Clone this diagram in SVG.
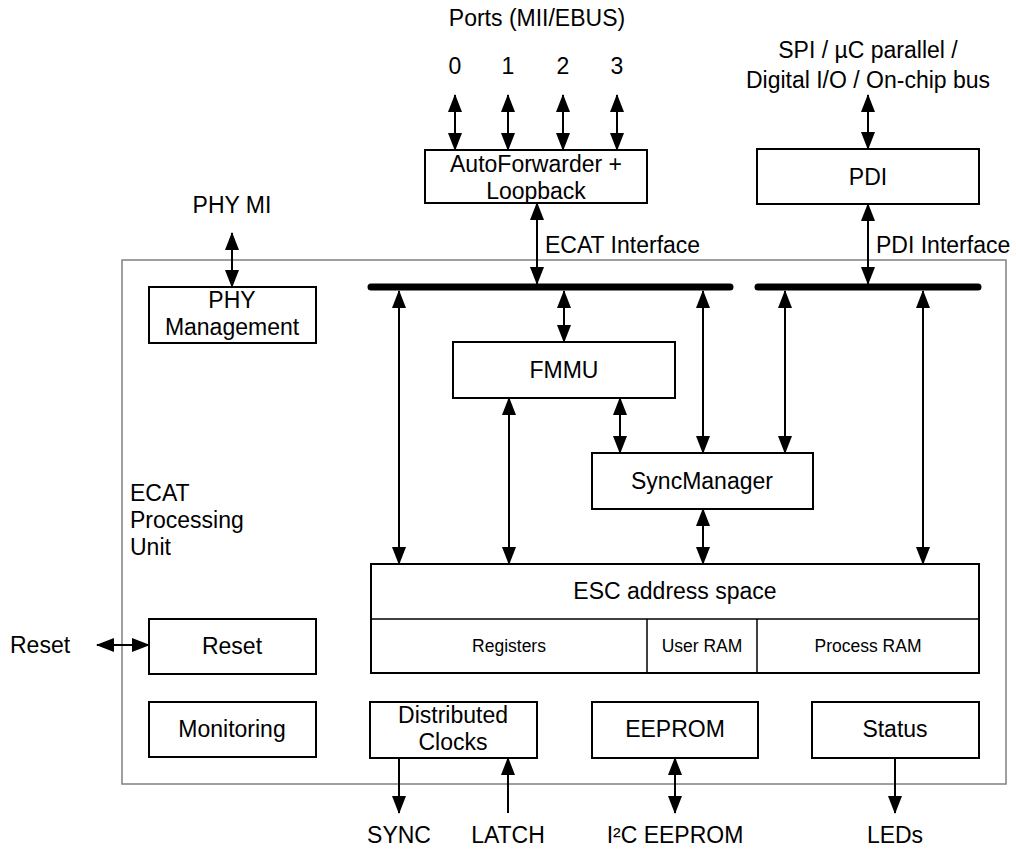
<svg xmlns="http://www.w3.org/2000/svg" width="1016" height="850" viewBox="0 0 1016 850">
<defs>
<marker id="ah" markerUnits="userSpaceOnUse" markerWidth="18" markerHeight="14" refX="17" refY="7" orient="auto-start-reverse">
<path d="M0,0 L18,7 L0,14 z" fill="#000"/>
</marker>
<style>
.box{fill:#fff;stroke:#000;stroke-width:2}
.outer{fill:none;stroke:#808080;stroke-width:1.5}
.t{font-family:"Liberation Sans",Arial,sans-serif;font-size:23px;fill:#000}
.c{text-anchor:middle}
.s{font-size:17.5px}
.a{stroke:#000;stroke-width:2;fill:none;marker-end:url(#ah)}
.d{marker-start:url(#ah)}
.bus{stroke:#000;stroke-width:7;stroke-linecap:round}
</style>
</defs>
<rect width="1016" height="850" fill="#fff"/>
<g id="processing-unit">
<rect class="outer" x="122" y="260" width="884" height="524"/>
<text class="t" x="130" y="501">ECAT</text>
<text class="t" x="130" y="528">Processing</text>
<text class="t" x="130" y="555">Unit</text>
</g>
<g id="labels">
<text class="t c" x="537" y="26">Ports (MII/EBUS)</text>
<text class="t c" x="455" y="74">0</text>
<text class="t c" x="508" y="74">1</text>
<text class="t c" x="563" y="74">2</text>
<text class="t c" x="617" y="74">3</text>
<text class="t c" x="868" y="58">SPI / µC parallel /</text>
<text class="t c" x="868" y="88">Digital I/O / On-chip bus</text>
<text class="t c" x="232" y="213">PHY MI</text>
<text class="t" x="545" y="253">ECAT Interface</text>
<text class="t" x="876" y="253">PDI Interface</text>
<text class="t" x="10" y="653">Reset</text>
<text class="t c" x="399" y="843">SYNC</text>
<text class="t c" x="508" y="843">LATCH</text>
<text class="t c" x="675" y="843">I²C EEPROM</text>
<text class="t c" x="895" y="843">LEDs</text>
</g>
<g id="autoforwarder">
<rect class="box" x="425" y="150" width="222" height="53"/>
<text class="t c" x="536" y="172">AutoForwarder +</text>
<text class="t c" x="536" y="199">Loopback</text>
</g>
<g id="pdi">
<rect class="box" x="757" y="149" width="222" height="55"/>
<text class="t c" x="868" y="185">PDI</text>
</g>
<g id="phy-management">
<rect class="box" x="149" y="287" width="167" height="56"/>
<text class="t c" x="232" y="308">PHY</text>
<text class="t c" x="232" y="335">Management</text>
</g>
<g id="fmmu">
<rect class="box" x="453" y="342" width="222" height="56"/>
<text class="t c" x="564" y="378">FMMU</text>
</g>
<g id="syncmanager">
<rect class="box" x="592" y="453" width="221" height="56"/>
<text class="t c" x="702" y="489">SyncManager</text>
</g>
<g id="esc-address-space">
<rect class="box" x="371" y="564" width="608" height="109"/>
<line x1="371" y1="619" x2="979" y2="619" stroke="#000" stroke-width="1.5"/>
<line x1="647" y1="619" x2="647" y2="673" stroke="#000" stroke-width="1.5"/>
<line x1="757" y1="619" x2="757" y2="673" stroke="#000" stroke-width="1.5"/>
<text class="t c" x="675" y="599">ESC address space</text>
<text class="t c s" x="509" y="652">Registers</text>
<text class="t c s" x="702" y="652">User RAM</text>
<text class="t c s" x="868" y="652">Process RAM</text>
</g>
<g id="reset">
<rect class="box" x="149" y="619" width="167" height="55"/>
<text class="t c" x="232" y="654">Reset</text>
</g>
<g id="monitoring">
<rect class="box" x="149" y="702" width="167" height="55"/>
<text class="t c" x="232" y="737">Monitoring</text>
</g>
<g id="distributed-clocks">
<rect class="box" x="370" y="702" width="167" height="56"/>
<text class="t c" x="453" y="723">Distributed</text>
<text class="t c" x="453" y="750">Clocks</text>
</g>
<g id="eeprom">
<rect class="box" x="592" y="702" width="166" height="56"/>
<text class="t c" x="675" y="737">EEPROM</text>
</g>
<g id="status">
<rect class="box" x="812" y="702" width="167" height="56"/>
<text class="t c" x="895" y="737">Status</text>
</g>
<g id="connectors">
<line class="bus" x1="371" y1="287" x2="730" y2="287"/>
<line class="bus" x1="758" y1="287" x2="978" y2="287"/>
<line class="a d" x1="455" y1="95" x2="455" y2="150"/>
<line class="a d" x1="508" y1="95" x2="508" y2="150"/>
<line class="a d" x1="563" y1="95" x2="563" y2="150"/>
<line class="a d" x1="617" y1="95" x2="617" y2="150"/>
<line class="a d" x1="537" y1="203" x2="537" y2="284"/>
<line class="a d" x1="868" y1="95" x2="868" y2="149"/>
<line class="a d" x1="868" y1="204" x2="868" y2="284"/>
<line class="a d" x1="232" y1="233" x2="232" y2="287"/>
<line class="a d" x1="399" y1="291" x2="399" y2="564"/>
<line class="a d" x1="564" y1="291" x2="564" y2="342"/>
<line class="a d" x1="509" y1="398" x2="509" y2="564"/>
<line class="a d" x1="620" y1="398" x2="620" y2="453"/>
<line class="a d" x1="703" y1="291" x2="703" y2="453"/>
<line class="a d" x1="785" y1="291" x2="785" y2="453"/>
<line class="a d" x1="923" y1="291" x2="923" y2="564"/>
<line class="a d" x1="703" y1="509" x2="703" y2="564"/>
<line class="a d" x1="97" y1="645" x2="149" y2="645"/>
<line class="a" x1="399" y1="758" x2="399" y2="813"/>
<line class="a" x1="508" y1="813" x2="508" y2="758"/>
<line class="a d" x1="675" y1="758" x2="675" y2="813"/>
<line class="a" x1="895" y1="758" x2="895" y2="813"/>
</g>
</svg>
